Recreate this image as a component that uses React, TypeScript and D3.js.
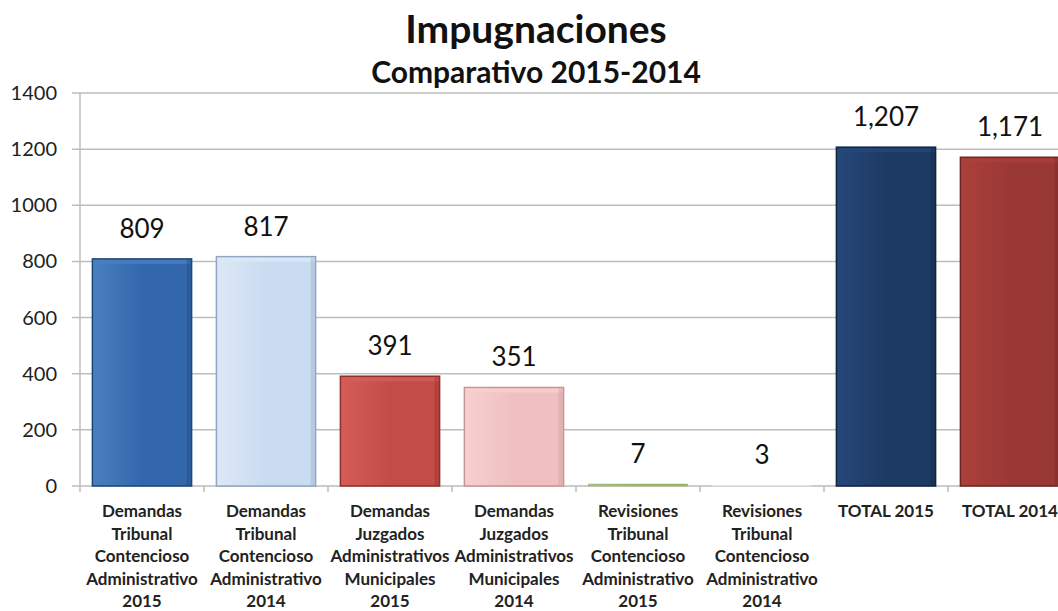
import React from "react";
import * as d3 from "d3";

const categories: string[][] = [
  ["Demandas", "Tribunal", "Contencioso", "Administrativo", "2015"],
  ["Demandas", "Tribunal", "Contencioso", "Administrativo", "2014"],
  ["Demandas", "Juzgados", "Administrativos", "Municipales", "2015"],
  ["Demandas", "Juzgados", "Administrativos", "Municipales", "2014"],
  ["Revisiones", "Tribunal", "Contencioso", "Administrativo", "2015"],
  ["Revisiones", "Tribunal", "Contencioso", "Administrativo", "2014"],
  ["TOTAL 2015"],
  ["TOTAL 2014"],
];
const values: number[] = [809, 817, 391, 351, 7, 3, 1207, 1171];
const valueLabels: string[] = ["809", "817", "391", "351", "7", "3", "1,207", "1,171"];
const yTicks: number[] = [0, 200, 400, 600, 800, 1000, 1200, 1400];
const colors: [string, string, string][] = [
  ["#3268ab", "#4a7fc0", "#1f4577"],
  ["#c9dcf0", "#dde8f5", "#8ea6c4"],
  ["#c44c47", "#d45e57", "#8e2f2a"],
  ["#f0bfbf", "#f6d0d0", "#c79595"],
  ["#9bbb59", "#a9c985", "#8aa860"],
  ["#f4f4f4", "#f8f8f8", "#e4e4e4"],
  ["#1d3a62", "#26477a", "#10233f"],
  ["#9a3835", "#ab403c", "#6c2523"],
];

export default function App() {
  const W = 1058, H = 611;
  const x0 = 80, x1 = 1072, yTop = 93, yBot = 486;
  const idx = categories.map((_, i) => String(i));
  const x = d3.scaleBand<string>().domain(idx).range([x0, x1]).paddingInner(0.2).paddingOuter(0.1);
  const y = d3.scaleLinear().domain([0, 1400]).range([yBot, yTop]);
  const font = "Lato, 'Open Sans', sans-serif";
  const step = x.step();
  return (
    <svg width={W} height={H} style={{ position: "absolute", left: 0, top: 0, background: "#fff" }}>
      <defs>
        {colors.map((c, i) => (
          <linearGradient key={i} id={`g${i}`} x1="0" x2="1" y1="0" y2="0">
            <stop offset="0" stopColor={c[1]} />
            <stop offset="0.5" stopColor={c[0]} />
            <stop offset="1" stopColor={c[0]} />
          </linearGradient>
        ))}
      </defs>
      <text x={536} y={43} textAnchor="middle" fontFamily={font} fontWeight="bold" fontSize={39} fill="#111">Impugnaciones</text>
      <text x={536} y={83} textAnchor="middle" fontFamily={font} fontWeight="bold" fontSize={30} fill="#111">Comparativo 2015-2014</text>
      {yTicks.map((t) => (
        <g key={t}>
          <line x1={72} x2={x1} y1={y(t)} y2={y(t)} stroke="#bdbdbd" strokeWidth={1.5} />
          <text x={57} y={y(t)} dy="0.35em" textAnchor="end" fontFamily={font} fontSize={20} fill="#222">{t}</text>
        </g>
      ))}
      <line x1={x0} x2={x0} y1={yTop} y2={yBot + 6} stroke="#bdbdbd" strokeWidth={1.5} />
      {idx.map((d, i) => (
        <line key={d} x1={x0 + (i + 1) * step} x2={x0 + (i + 1) * step} y1={yBot} y2={yBot + 6} stroke="#bdbdbd" strokeWidth={1.5} />
      ))}
      {values.map((v, i) => {
        const bx = x(String(i))!;
        const bw = x.bandwidth();
        const by = y(v);
        const bh = yBot - by;
        const c = colors[i];
        return (
          <g key={i}>
            {bh > 0.5 && (
              <>
                <rect x={bx} y={by} width={bw} height={bh} fill={`url(#g${i})`} stroke={c[2]} strokeWidth={bh > 8 ? 1.5 : 0.5} />
                {bh > 8 && (
                  <>
                    <rect x={bx + 1} y={by + 1} width={bw - 2} height={4} fill={c[1]} opacity={0.8} />
                    <rect x={bx + bw - 5} y={by + 1} width={4} height={bh - 2} fill={c[2]} opacity={0.35} />
                  </>
                )}
              </>
            )}
            <text x={bx + bw / 2} y={by - 21} textAnchor="middle" fontFamily={font} fontSize={26} fill="#111">{valueLabels[i]}</text>
          </g>
        );
      })}
      {categories.map((lines, i) => (
        <text key={i} x={x(String(i))! + x.bandwidth() / 2} y={517} textAnchor="middle" fontFamily={font} fontWeight="bold" fontSize={17} fill="#222">
          {lines.map((l, j) => (
            <tspan key={j} x={x(String(i))! + x.bandwidth() / 2} dy={j === 0 ? 0 : 22.6}>{l}</tspan>
          ))}
        </text>
      ))}
    </svg>
  );
}
